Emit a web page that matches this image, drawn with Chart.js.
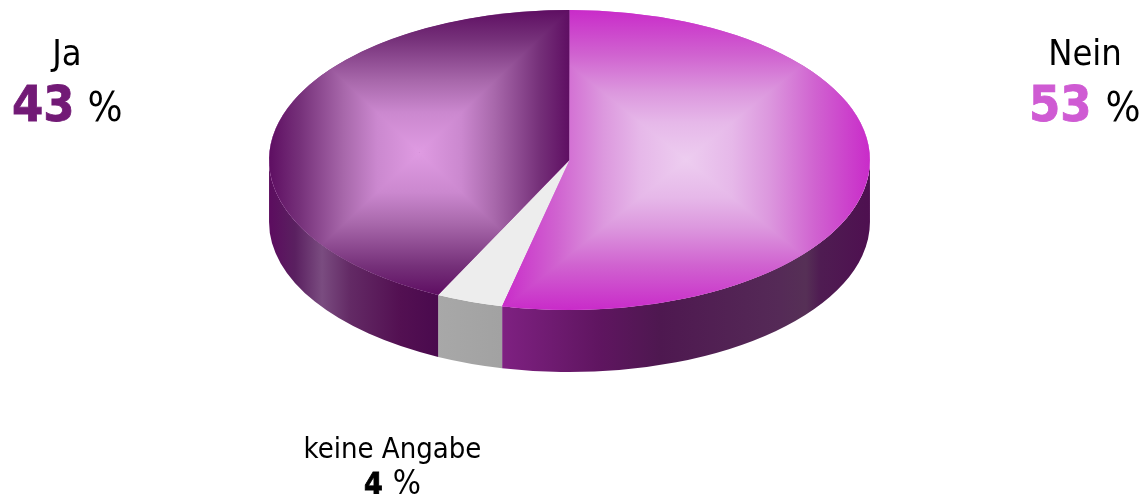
<!DOCTYPE html>
<html>
<head>
<meta charset="utf-8">
<style>
  html, body { margin: 0; padding: 0; background: #fff; }
  #wrap { width: 1143px; height: 494px; overflow: hidden; }
</style>
<script src="https://cdn.jsdelivr.net/npm/chart.js@4/dist/chart.umd.min.js"></script>
</head>
<body>
<div id="wrap"><canvas id="pie" width="1143" height="494"></canvas></div>
<script>
// Werte (Winkel der Segmente), Beschriftung gerundet
const categories = ['Nein', 'keine Angabe', 'Ja']
const values = [53.6, 3.6, 42.8]
const shownPercent = ['53', '4', '43']

const baseColor = ['#d25fd2', '#ededed', '#8a4a8e']
const percentColor = ['#cf5bd3', '#000000', '#721a76']

// Farbverlauf der Oberseite: [Anteil, Farbe] vom Rand zum Zentrum (null = einfarbig)
const faceStops = [
  [[0, '#c92bc9'], [0.3, '#d063d0'], [0.55, '#dc98de'], [0.75, '#e6b8e9'], [1, '#edcdf0']],
  null,
  [[0, '#5e0e62'], [0.2, '#753079'], [0.5, '#a868ab'], [0.72, '#cb88cf'], [1, '#df9be2']],
]
// Farbverlauf der Seitenwand je Segment: [x, Farbe]
const wallStops = [
  [[501, '#7f2182'], [600, '#5f1560'], [660, '#4e1850'], [780, '#552a57'], [806, '#563056'], [820, '#4f1c52'], [870, '#4e1050']],
  [[437, '#a8a8a8'], [501, '#a2a2a2']],
  [[269, '#5c0c5f'], [295, '#5a2060'], [322, '#7a4c80'], [350, '#632a65'], [400, '#531052'], [437, '#4a0a4e']],
]

const STRETCH = 2.003
const DEPTH = 62

const wallPlugin = {
  id: 'wall',
  beforeDatasetsDraw(chart) {
    const ctx = chart.ctx
    chart.getDatasetMeta(0).data.forEach((arc, i) => {
      const rx = arc.outerRadius * STRETCH
      const ry = arc.outerRadius
      const from = Math.max(arc.startAngle, 0)
      const to = Math.min(arc.endAngle, Math.PI)
      if (to <= from) return
      const x0 = wallStops[i][0][0]
      const x1 = wallStops[i][wallStops[i].length - 1][0]
      const grad = ctx.createLinearGradient(x0, 0, x1, 0)
      wallStops[i].forEach((s) => grad.addColorStop((s[0] - x0) / (x1 - x0), s[1]))
      ctx.save()
      ctx.fillStyle = grad
      ctx.beginPath()
      ctx.ellipse(arc.x, arc.y, rx, ry, 0, from, to)
      ctx.ellipse(arc.x, arc.y + DEPTH, rx, ry, 0, to, from, true)
      ctx.closePath()
      ctx.fill()
      ctx.restore()
    })
    // Kreis zur Ellipse strecken
    const a = chart.getDatasetMeta(0).data[0]
    ctx.save()
    ctx.translate(a.x, a.y)
    ctx.scale(STRETCH, 1)
    ctx.translate(-a.x, -a.y)
  },
  afterDatasetsDraw(chart) {
    chart.ctx.restore()
  },
}

// Rechteckiger Verlauf wie im Original, auf das Segment beschnitten
const facePlugin = {
  id: 'face',
  afterDatasetsDraw(chart) {
    const ctx = chart.ctx
    chart.getDatasetMeta(0).data.forEach((arc, i) => {
      if (!faceStops[i]) return
      const rx = arc.outerRadius * STRETCH
      const ry = arc.outerRadius
      // Begrenzung des Segments bestimmen
      let left = arc.x, right = arc.x, top = arc.y, bottom = arc.y
      for (let n = 0; n <= 200; n++) {
        const t = arc.startAngle + (arc.endAngle - arc.startAngle) * n / 200
        const px = arc.x + rx * Math.cos(t)
        const py = arc.y + ry * Math.sin(t)
        left = Math.min(left, px); right = Math.max(right, px)
        top = Math.min(top, py); bottom = Math.max(bottom, py)
      }
      const cx = (left + right) / 2
      const cy = (top + bottom) / 2
      const makeGrad = (gx0, gy0, gx1, gy1) => {
        const g = ctx.createLinearGradient(gx0, gy0, gx1, gy1)
        faceStops[i].forEach((s) => g.addColorStop(s[0], s[1]))
        return g
      }
      const tri = (x1, y1, x2, y2, grad) => {
        ctx.fillStyle = grad
        ctx.beginPath()
        ctx.moveTo(x1, y1)
        ctx.lineTo(x2, y2)
        ctx.lineTo(cx, cy)
        ctx.closePath()
        ctx.fill()
      }
      ctx.save()
      ctx.beginPath()
      ctx.moveTo(arc.x, arc.y)
      ctx.ellipse(arc.x, arc.y, rx, ry, 0, arc.startAngle, arc.endAngle)
      ctx.closePath()
      ctx.clip()
      // erst oben/unten vollflaechig, dann links/rechts darueber: keine hellen Naehte
      ctx.fillStyle = makeGrad(cx, top, cx, cy)
      ctx.fillRect(left, top, right - left, cy - top)
      ctx.fillStyle = makeGrad(cx, bottom, cx, cy)
      ctx.fillRect(left, cy, right - left, bottom - cy)
      tri(left, top, left, bottom, makeGrad(left, cy, cx, cy))
      tri(right, top, right, bottom, makeGrad(right, cy, cx, cy))
      ctx.restore()
    })
  },
}

const labelPlugin = {
  id: 'labels',
  afterDraw(chart) {
    const ctx = chart.ctx
    const family = '"DejaVu Sans Condensed", "DejaVu Sans"'
    const place = [
      { x: 1085, nameY: 65, name: 36, pctX: 1029, pctY: 121, size: 50, unit: 41, gap: 14 },
      { x: 392.5, nameY: 458, name: 29, pctX: 364, pctY: 494, size: 30, unit: 33, gap: 10 },
      { x: 67, nameY: 65, name: 36, pctX: 12, pctY: 121, size: 50, unit: 41, gap: 13 },
    ]
    ctx.save()
    ctx.textBaseline = 'alphabetic'
    categories.forEach((name, i) => {
      const p = place[i]
      ctx.textAlign = 'center'
      ctx.fillStyle = '#000'
      ctx.font = `${p.name}px ${family}`
      ctx.fillText(name, p.x, p.nameY)
      ctx.textAlign = 'left'
      ctx.fillStyle = percentColor[i]
      ctx.strokeStyle = percentColor[i]
      ctx.lineWidth = 0.8
      ctx.font = `bold ${p.size}px ${family}`
      ctx.fillText(shownPercent[i], p.pctX, p.pctY)
      ctx.strokeText(shownPercent[i], p.pctX, p.pctY)
      const w = ctx.measureText(shownPercent[i]).width
      ctx.fillStyle = '#000'
      ctx.font = `${p.unit}px ${family}`
      ctx.fillText('%', p.pctX + w + p.gap, p.pctY)
    })
    ctx.restore()
  },
}

new Chart(document.getElementById('pie'), {
  type: 'pie',
  data: {
    labels: categories,
    datasets: [{
      data: values,
      backgroundColor: baseColor,
      borderColor: baseColor,
      borderWidth: 0,
    }],
  },
  options: {
    responsive: false,
    animation: false,
    layout: { padding: { top: 10, bottom: 184, left: 0, right: 4 } },
    plugins: {
      legend: { display: false },
      tooltip: { enabled: false },
    },
  },
  plugins: [wallPlugin, facePlugin, labelPlugin],
})
</script>
</body>
</html>
